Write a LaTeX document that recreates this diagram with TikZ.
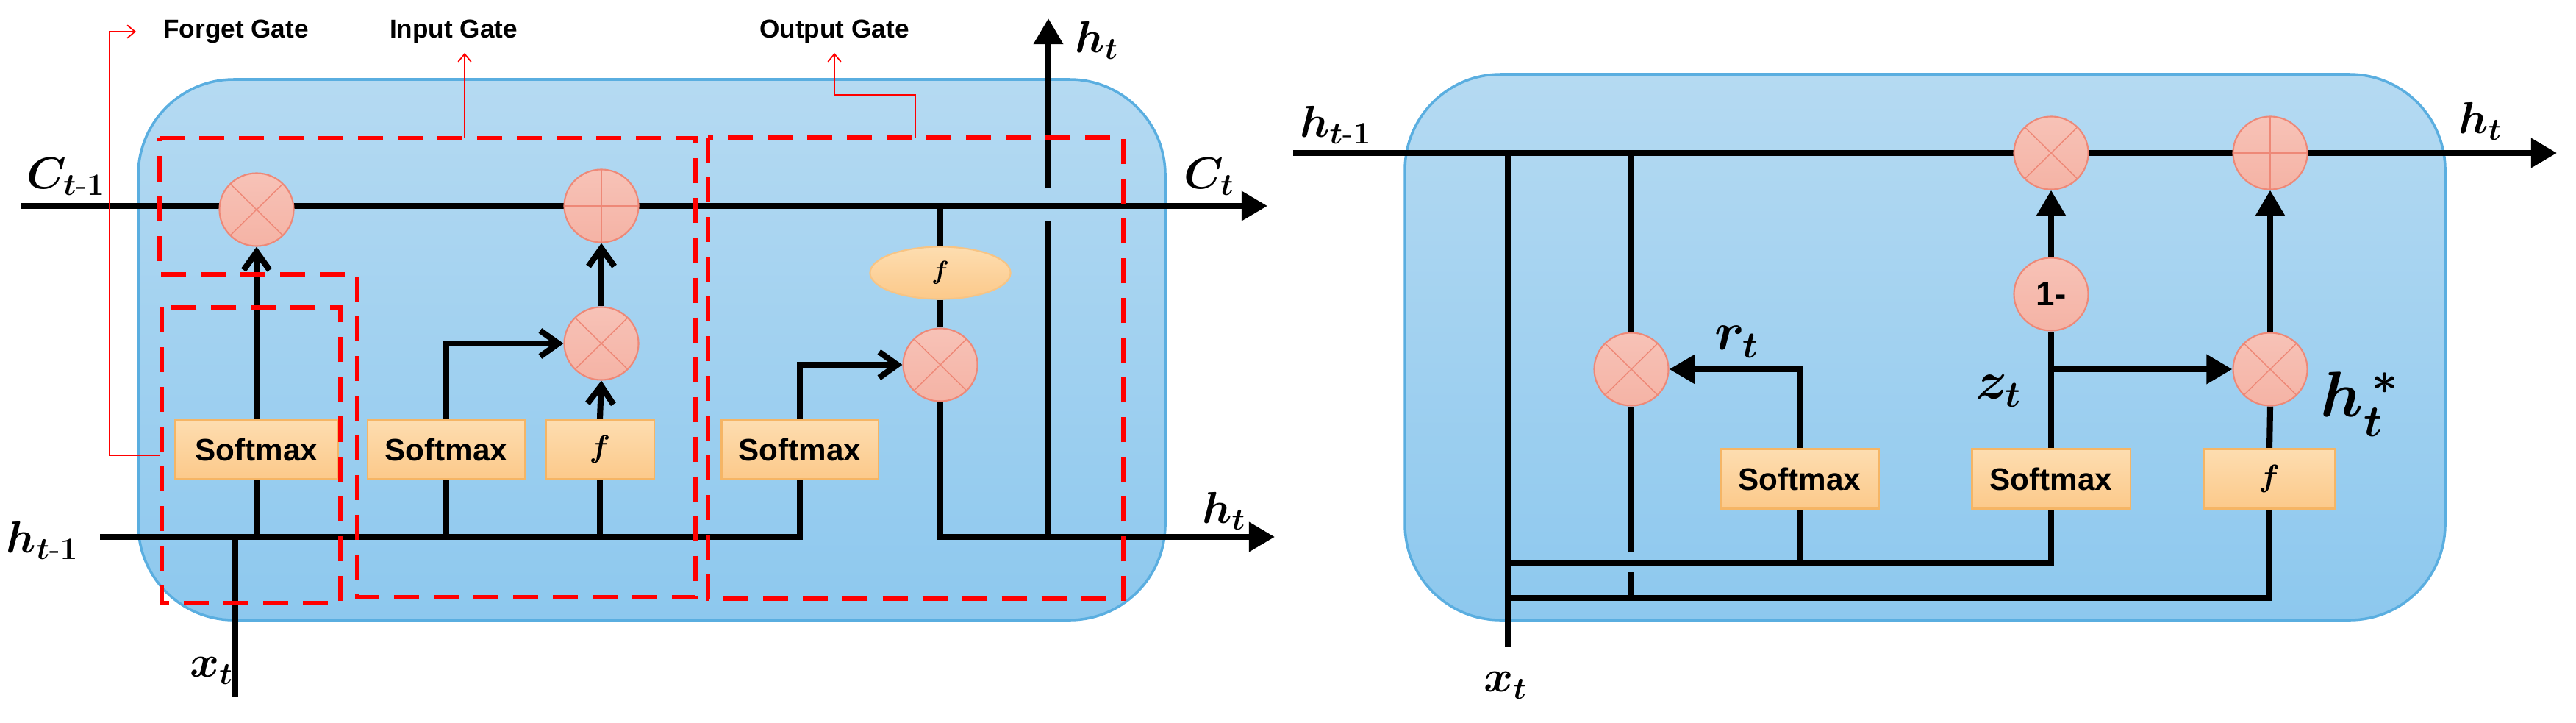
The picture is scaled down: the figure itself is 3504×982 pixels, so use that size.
\documentclass[tikz,border=0pt]{standalone}
\usepackage{amsmath,amssymb,bm}
\usepackage{fontspec}
\setsansfont{Liberation Sans}
\usetikzlibrary{shapes.geometric,arrows.meta}
\pgfdeclarelayer{bg}\pgfdeclarelayer{lines}
\pgfsetlayers{bg,lines,main}
\definecolor{cellT}{HTML}{B5DAF2}\definecolor{cellB}{HTML}{8DC8EE}\definecolor{cellE}{HTML}{5AAEE0}
\definecolor{opF}{HTML}{F5B3A5}\definecolor{opE}{HTML}{EE8877}
\definecolor{bxT}{HTML}{FDDDB0}\definecolor{bxB}{HTML}{FCC98A}\definecolor{bxE}{HTML}{F5B565}
\tikzset{
 cell/.style={top color=cellT,bottom color=cellB,draw=cellE,line width=1pt,rounded corners=1.3cm},
 op/.style={ellipse,minimum width=1.01cm,minimum height=0.99cm,inner sep=0pt,top color=opF!80!white,bottom color=opF,draw=opE,line width=0.6pt},
 mul/.style={op,path picture={\draw[opE,line width=0.4pt](path picture bounding box.north west)--(path picture bounding box.south east)(path picture bounding box.north east)--(path picture bounding box.south west);}},
 add/.style={op,path picture={\draw[opE,line width=0.4pt](path picture bounding box.north)--(path picture bounding box.south)(path picture bounding box.east)--(path picture bounding box.west);}},
 box/.style={rectangle,inner sep=0pt,minimum height=0.81cm,top color=bxT,bottom color=bxB,draw=bxE,line width=0.6pt,font=\sffamily\bfseries\fontsize{12}{14}\selectfont},
 w/.style={line width=2.3pt,black},
 oa/.style={w,-{Straight Barb[length=7pt,width=10pt,line width=2.3pt]}},
 fa/.style={w,-{Triangle[length=10pt,width=11pt]}},
 gate/.style={red,line width=1.8pt,dash pattern=on 0.34cm off 0.2cm},
 ann/.style={red,line width=0.5pt},
 anna/.style={ann,-{Straight Barb[length=3pt,width=5pt]}},
 gl/.style={font=\sffamily\bfseries\fontsize{10}{12}\selectfont},
 ml/.style={font=\boldmath\fontsize{18}{20}\selectfont},
}
\begin{document}
\begin{tikzpicture}[x=0.01cm,y=-0.01cm]
\useasboundingbox (0,0) rectangle (3504,982);
\begin{pgfonlayer}{bg}
\path[cell] (188,108) rectangle (1585,843);
\path[cell] (1911,101) rectangle (3326,843);
\end{pgfonlayer}
% ---------- LSTM ----------
\node[mul] (Cf) at (349,285) {};
\node[add] (Cp) at (818,280) {};
\node[mul] (Mi) at (818,467) {};
\node[mul] (Mo) at (1279,496) {};
\node[ellipse,minimum width=1.91cm,minimum height=0.71cm,inner sep=0pt,top color=bxT,bottom color=bxB,draw=bxE!80!white,line width=0.6pt] (fo) at (1279,371) {$\bm{f}$};
\node[box,minimum width=2.22cm] (S1) at (349,611) {Softmax};
\node[box,minimum width=2.14cm] (S2) at (607,611) {Softmax};
\node[box,minimum width=1.47cm] (F1) at (816,611) {$\bm{f}$};
\node[box,minimum width=2.13cm] (S3) at (1088,611) {Softmax};
\coordinate (cin) at (28,280); \coordinate (cout) at (1724,280);
\coordinate (hin) at (136,730); \coordinate (hout) at (1734,730);
\coordinate (ot) at (1279,280);
\coordinate (vb) at (1426,730); \coordinate (vg1) at (1426,300); \coordinate (vg2) at (1426,256); \coordinate (vt) at (1426,25);
\coordinate (xj) at (320,730); \coordinate (xb) at (320,948);
\begin{pgfonlayer}{lines}
\draw[fa] (cin) -- (cout);
\draw[w] (hin) -| (S3.south);
\draw[oa] (S3.north) |- (Mo.west);
\draw[w] (S1.south |- hin) -- (S1.south);
\draw[oa] (S1.north) -- (Cf.south);
\draw[w] (S2.south |- hin) -- (S2.south);
\draw[oa] (S2.north) |- (Mi.west);
\draw[w] (F1.south |- hin) -- (F1.south);
\draw[oa] (F1.north) -- (Mi.south);
\draw[oa] (Mi.north) -- (Cp.south);
\draw[w] (ot) -- (fo.north);
\draw[w] (fo.south) -- (Mo.north);
\draw[fa] (Mo.south) |- (hout);
\draw[w] (vb) -- (vg1);
\draw[fa] (vg2) -- (vt);
\draw[w] (xj) -- (xb);
\end{pgfonlayer}
\draw[gate] (217,188) -- (946,188) -- (946,812) -- (486,812) -- (486,373) -- (217,373) -- cycle;
\draw[gate] (220,418) rectangle (463,820);
\draw[gate] (963,187) rectangle (1528,814);
\coordinate (a1) at (217,619); \coordinate (a2) at (185,43);
\coordinate (b1) at (632,188); \coordinate (b2) at (632,72);
\coordinate (c1) at (1245,188); \coordinate (c2) at (1135,72);
\draw[anna] (a1) -- (149,619) |- (a2);
\draw[anna] (b1) -- (b2);
\draw[anna] (c1) -- (1245,129) -| (c2);
\node[gl,anchor=west] (lf) at (210,43) {Forget Gate};
\node[gl] (li) at (617,43) {Input Gate};
\node[gl] (lo) at (1135,43) {Output Gate};
\node[ml] (lc1) at (90,240) {$C_{t\text{-}1}$};
\node[ml] (lc2) at (1645,240) {$C_t$};
\node[ml] (lh1) at (58,735) {$h_{t\text{-}1}$};
\node[ml] (lh2) at (1665,695) {$h_t$};
\node[ml] (lh3) at (1492,55) {$h_t$};
\node[ml] (lx) at (288,912) {$x_t$};
% ---------- GRU ----------
\node[mul] (M1) at (2790,208) {};
\node[add] (P2) at (3088,208) {};
\node[op,font=\sffamily\bfseries\fontsize{13}{14}\selectfont] (One) at (2790,400) {1-};
\node[mul] (Mr) at (2219,502) {};
\node[mul] (Mh) at (3088,502) {};
\node[box,minimum width=2.15cm] (T1) at (2448,651) {Softmax};
\node[box,minimum width=2.15cm] (T2) at (2790,651) {Softmax};
\node[box,minimum width=1.77cm] (T3) at (3087,651) {$\bm{f}$};
\coordinate (gin) at (1759,208); \coordinate (gout) at (3478,208);
\coordinate (xt1) at (2051,208); \coordinate (xt2) at (2051,879);
\coordinate (r1) at (2219,208); \coordinate (r2) at (2219,750); \coordinate (r3) at (2219,778); \coordinate (r4) at (2219,813);
\coordinate (b1s) at (2051,765); \coordinate (b2s) at (2051,813);
\coordinate (zj) at (2790,502);
\begin{pgfonlayer}{lines}
\draw[fa] (gin) -- (gout);
\draw[w] (xt1) -- (xt2);
\draw[w] (r1) -- (Mr.north);
\draw[w] (Mr.south) -- (r2);
\draw[w] (r3) -- (r4);
\draw[w] (b1s) -| (T2.south);
\draw[w] (T1.south) -- (T1.south |- b1s);
\draw[w] (b2s) -| (T3.south);
\draw[fa] (T1.north) |- (Mr.east);
\draw[w] (T2.north) -- (One.south);
\draw[fa] (One.north) -- (M1.south);
\draw[fa] (zj) -- (Mh.west);
\draw[w] (T3.north) -- (Mh.south);
\draw[fa] (Mh.north) -- (P2.south);
\end{pgfonlayer}
\node[ml] (gh1) at (1817,170) {$h_{t\text{-}1}$};
\node[ml] (gh2) at (3374,165) {$h_t$};
\node[ml] (gx) at (2048,932) {$x_t$};
\node[font=\boldmath\fontsize{22}{24}\selectfont] (gr) at (2363,465) {$r_t$};
\node[font=\boldmath\fontsize{20}{22}\selectfont] (gz) at (2719,532) {$z_t$};
\node[font=\boldmath\fontsize{26}{28}\selectfont] (gs) at (3210,550) {$h_t^{\,*}$};
\end{tikzpicture}
\end{document}
